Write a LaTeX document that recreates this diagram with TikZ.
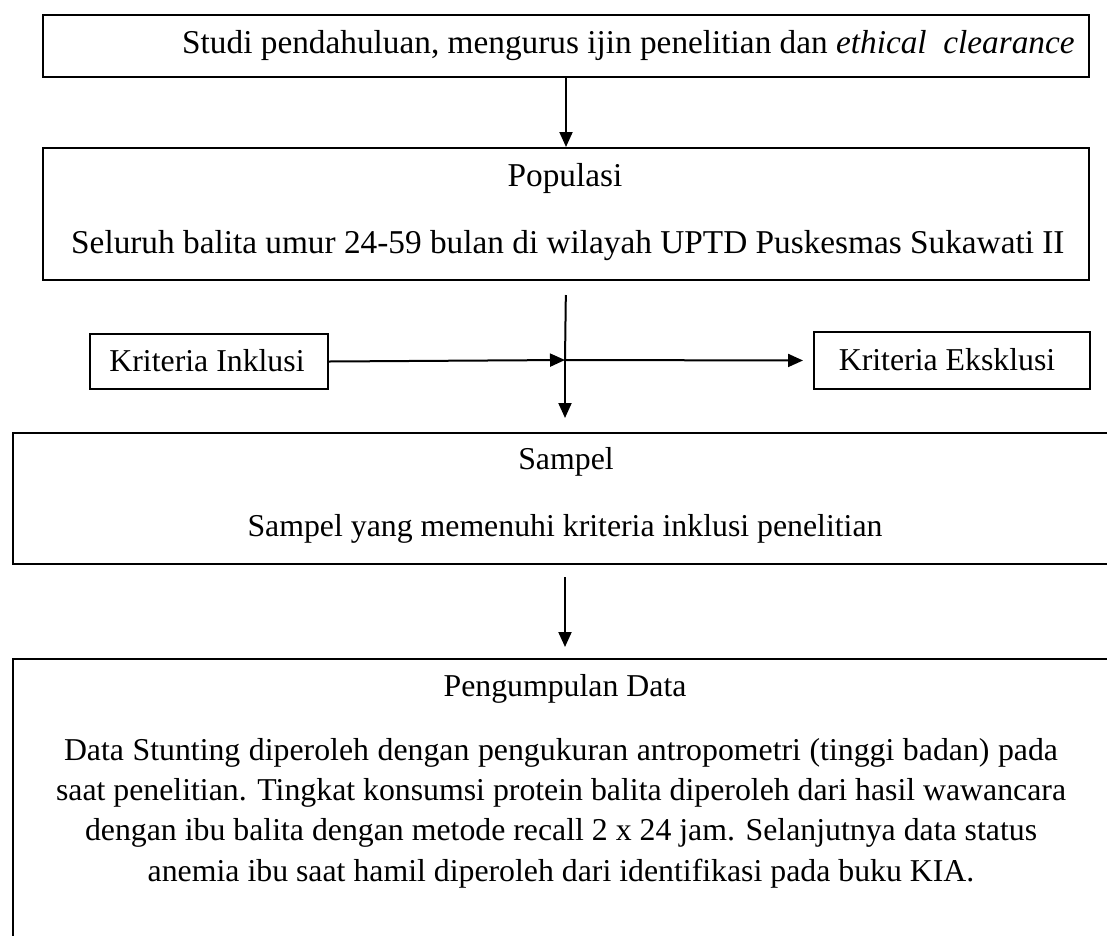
\documentclass[tikz,border=0pt]{standalone}
\usepackage{fontspec}
\setmainfont{Liberation Serif}
\usetikzlibrary{arrows.meta}
\begin{document}
\begin{tikzpicture}[x=1pt,y=-1pt,
  every node/.style={font=\fontsize{31.8}{40.3}\selectfont,inner sep=0pt},
  big/.style={font=\fontsize{33.3}{40.3}\selectfont},
  mid/.style={font=\fontsize{31.8}{40.3}\selectfont},
  frame/.style={draw,line width=2pt,anchor=north west},
  arr/.style={line width=2pt,-{Triangle[length=15pt,width=13pt]}},
  plain/.style={line width=2pt}]
\clip (0,0) rectangle (1107,935);
% boxes
\node[frame,minimum width=1046pt,minimum height=62pt] (studi) at (42,14) {};
\node[frame,minimum width=1046pt,minimum height=132pt] (popbox) at (42,147) {};
\node[frame,minimum width=238pt,minimum height=55pt] (inklusi) at (89,333) {};
\node[frame,minimum width=276pt,minimum height=57pt] (eksklusi) at (813,331) {};
\node[frame,minimum width=1108pt,minimum height=131pt] (sampelbox) at (12,432) {};
\node[frame,minimum width=1108pt,minimum height=320pt] (datbox) at (12,658) {};
% texts
\node[big,anchor=west] (studitxt) at (182,46) {Studi pendahuluan, mengurus ijin penelitian dan \textit{ethical\ \ clearance}};
\node[big] (poptitle) at (565,178) {Populasi};
\node[big,anchor=west] (poptxt) at (71,246) {Seluruh balita umur 24-59 bulan di wilayah UPTD Puskesmas Sukawati II};
\node (inktxt) at (207,361) {Kriteria Inklusi};
\node (ekstxt) at (947,360) {Kriteria Eksklusi};
\node[mid] (samtitle) at (566,462) {Sampel};
\node[mid] (samtxt) at (565,529) {Sampel yang memenuhi kriteria inklusi penelitian};
\node[mid] (dattitle) at (565,689) {Pengumpulan Data};
\node[mid,align=center] (dattxt) at (561,813) {\hbox to 994pt{Data Stunting diperoleh dengan pengukuran antropometri (tinggi badan) pada}\\
saat penelitian. Tingkat konsumsi protein balita diperoleh dari hasil wawancara\\
dengan ibu balita dengan metode recall 2 x 24 jam. Selanjutnya data status\\
anemia ibu saat hamil diperoleh dari identifikasi pada buku KIA.};
% connectors
\coordinate (cross) at (565,360);
\draw[arr] (studi.south) -- (popbox.north);
\draw[plain,shorten <=14pt] (popbox.south) -- (cross);
\draw[arr,shorten >=14pt] (cross) -- (cross |- sampelbox.north);
\draw[arr] (inklusi.east) -- (cross);
\draw[arr,shorten >=10pt] (cross) -- (eksklusi.west);
\draw[arr,shorten <=12pt,shorten >=11pt] (sampelbox.south -| cross) -- (datbox.north -| cross);
\end{tikzpicture}
\end{document}
